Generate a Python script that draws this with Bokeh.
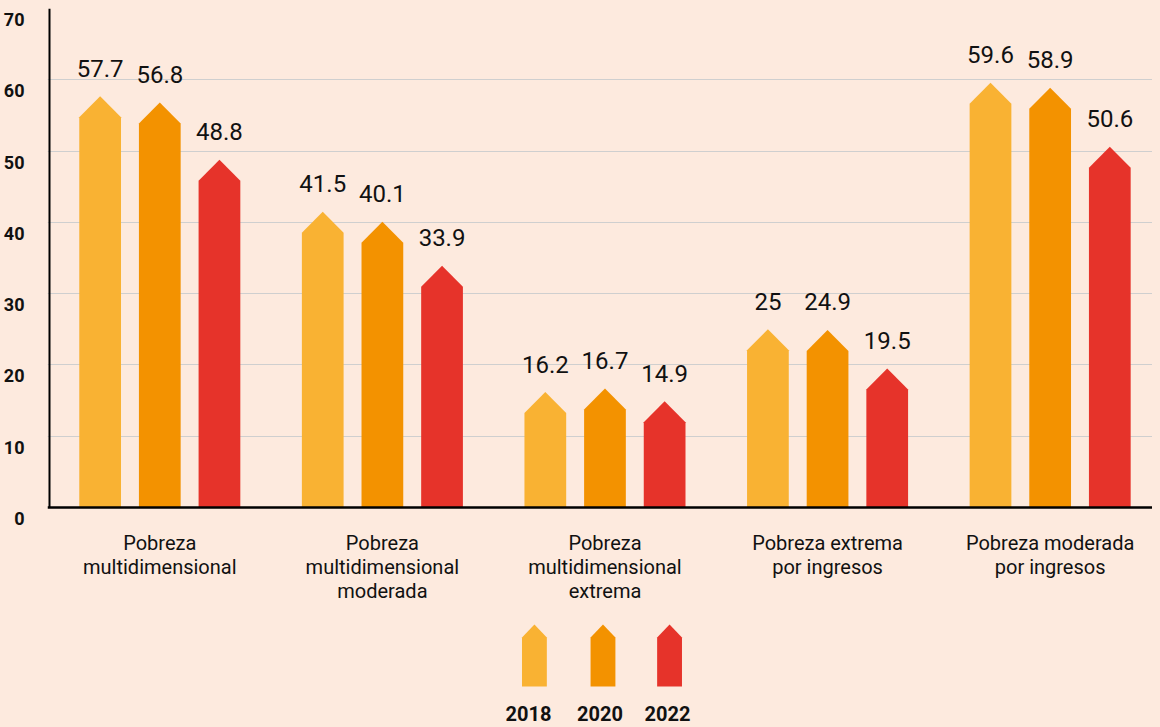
from bokeh.plotting import figure
from bokeh.models import Range1d, FixedTicker, ColumnDataSource, Span
from bokeh.layouts import column
from bokeh.embed import file_html
from bokeh.resources import INLINE
from bokeh.core.properties import value

# ---------------- data ----------------
categories = [
    "Pobreza\nmultidimensional",
    "Pobreza\nmultidimensional\nmoderada",
    "Pobreza\nmultidimensional\nextrema",
    "Pobreza extrema\npor ingresos",
    "Pobreza moderada\npor ingresos",
]
years = ["2018", "2020", "2022"]
v2018 = [57.7, 41.5, 16.2, 25, 59.6]
v2020 = [56.8, 40.1, 16.7, 24.9, 58.9]
v2022 = [48.8, 33.9, 14.9, 19.5, 50.6]
y_ticks = [0, 10, 20, 30, 40, 50, 60, 70]

# ---------------- style ----------------
BG = "#FDEADE"
COLORS = ["#F9B233", "#F39200", "#E6332A"]
FONT = "Roboto"
TXT = "#111111"

W, H_MAIN, H_LEG = 1152, 618, 109
TOP = 8
LEFT = 40
PX_PER_UNIT = 499 / 70          # 0 -> 70 spans 499 px
EXTRA_BOTTOM_PX = 13            # frame extends a bit below zero
FRAME_H = 499 + EXTRA_BOTTOM_PX
Y_MIN = -EXTRA_BOTTOM_PX / PX_PER_UNIT
LABEL_SHIFT = 11 / PX_PER_UNIT  # tick labels sit a bit below their gridlines
TIP_PX = 21
BAR_W = 0.1875
OFFSETS = [-0.268, 0.0, 0.268]
X0 = -0.5045                    # frame left
AXIS_X = -0.4955                # vertical axis line position

p = figure(
    width=W, height=H_MAIN,
    x_range=Range1d(X0, 4.4598), y_range=Range1d(Y_MIN, 70),
    output_backend="svg", toolbar_location=None,
    min_border_left=LEFT, min_border_right=0, min_border_top=TOP,
    min_border_bottom=H_MAIN - TOP - FRAME_H,
    background_fill_color=BG, border_fill_color=BG, outline_line_color=None,
)

# gridlines
p.ygrid.ticker = FixedTicker(ticks=y_ticks[1:])
p.ygrid.grid_line_color = "#CFCFCF"
p.ygrid.grid_line_width = 1
p.xgrid.grid_line_color = None

series = [v2018, v2020, v2022]
tip = TIP_PX / PX_PER_UNIT
for k, vals in enumerate(series):
    xs, ys, lx, ly, lt = [], [], [], [], []
    for i, v in enumerate(vals):
        c = i + OFFSETS[k]
        hw = BAR_W / 2
        xs.append([c - hw, c + hw, c + hw, c, c - hw])
        ys.append([0, 0, v - tip, v, v - tip])
        lx.append(c)
        ly.append(v)
        lt.append(f"{v:g}")
    src = ColumnDataSource(dict(xs=xs, ys=ys))
    p.patches("xs", "ys", source=src, fill_color=COLORS[k], line_color=None)
    lsrc = ColumnDataSource(dict(x=lx, y=ly, t=lt))
    p.text("x", "y", text="t", source=lsrc, text_align="center",
           text_baseline="alphabetic", y_offset=-28,
           text_font=value(FONT), text_font_size="24px", text_color=TXT)

# axis lines
p.add_layout(Span(location=0, dimension="width", line_color="black", line_width=2.5))
p.segment(x0=[AXIS_X], y0=[0], x1=[AXIS_X], y1=[70], line_color="black", line_width=2)

# y axis labels (placed slightly below their gridlines)
p.yaxis.ticker = FixedTicker(ticks=[t - LABEL_SHIFT for t in y_ticks])
p.yaxis.major_label_overrides = {t - LABEL_SHIFT: str(t) for t in y_ticks}
p.yaxis.axis_line_color = None
p.yaxis.major_tick_line_color = None
p.yaxis.minor_tick_line_color = None
p.yaxis.major_label_standoff = 17
p.yaxis.major_label_text_font = FONT
p.yaxis.major_label_text_font_style = "bold"
p.yaxis.major_label_text_font_size = "18px"
p.yaxis.major_label_text_color = TXT

# x axis
p.xaxis.ticker = FixedTicker(ticks=list(range(len(categories))))
p.xaxis.major_label_overrides = {i: c for i, c in enumerate(categories)}
p.xaxis.axis_line_color = None
p.xaxis.major_tick_line_color = None
p.xaxis.minor_tick_line_color = None
p.xaxis.major_label_standoff = 4
p.xaxis.major_label_text_font = FONT
p.xaxis.major_label_text_font_size = "20px"
p.xaxis.major_label_text_color = TXT
p.xaxis.major_label_text_line_height = 1.0

# ---------------- legend figure ----------------
# the column layout aligns this frame with the main frame; its x range is
# chosen so that data x equals page x
LEG_X0 = 44
leg = figure(
    width=W, height=H_LEG,
    x_range=Range1d(LEG_X0, LEG_X0 + W - LEFT), y_range=Range1d(H_MAIN + H_LEG, H_MAIN),
    x_axis_type=None, y_axis_type=None,
    output_backend="svg", toolbar_location=None,
    min_border=0, min_border_left=LEFT,
    background_fill_color=BG, border_fill_color=BG,
    outline_line_color=None,
)
leg.grid.grid_line_color = None

sw_cx = [534, 603, 670]
lab_cx = [528, 600, 668]
sw_w, sw_top, sw_sh, sw_bot = 25, 624, 637, 686
lxs, lys = [], []
for cx in sw_cx:
    h = sw_w / 2
    lxs.append([cx - h, cx + h, cx + h, cx, cx - h])
    lys.append([sw_bot, sw_bot, sw_sh, sw_top, sw_sh])
leg.patches(lxs, lys, fill_color=COLORS, line_color=None)
leg.text(lab_cx, [713] * 3, text=years, text_align="center", text_baseline="middle",
         text_font=value(FONT), text_font_style="bold", text_font_size="20px",
         text_color=TXT)

layout = column(p, leg, spacing=0)

html = file_html(layout, INLINE)
html = html.replace("<head>", "<head><style>body{background:%s;}</style>" % BG, 1)
open("out.html", "w").write(html)
